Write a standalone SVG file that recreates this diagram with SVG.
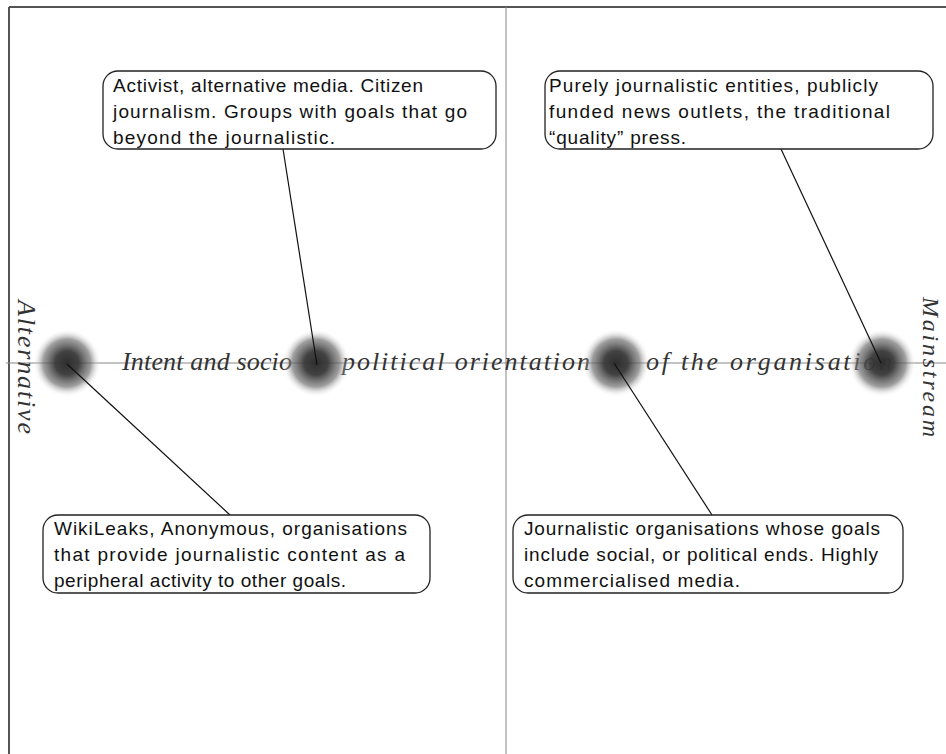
<svg xmlns="http://www.w3.org/2000/svg" width="946" height="754" viewBox="0 0 946 754">
<defs>
<radialGradient id="blob" cx="0.5" cy="0.5" r="0.5">
<stop offset="0" stop-color="#2e2e2e" stop-opacity="1"/>
<stop offset="0.35" stop-color="#383838" stop-opacity="0.95"/>
<stop offset="0.7" stop-color="#6a6a6a" stop-opacity="0.65"/>
<stop offset="1" stop-color="#ffffff" stop-opacity="0"/>
</radialGradient>
<style>
.frame{stroke:#555;stroke-width:2;fill:none}
.axis{stroke:#888;stroke-width:1;fill:none}
.box{fill:#fff;stroke:#222;stroke-width:1.3}
.bt{font-family:"Liberation Sans",Arial,sans-serif;font-size:19px;fill:#111}
.ax{font-family:"Liberation Serif","Times New Roman",serif;font-style:italic;font-size:26px;fill:#333}
.conn{stroke:#111;stroke-width:1.2;fill:none}
</style>
</defs>
<rect width="946" height="754" fill="#fff"/>
<g id="frame">
<line class="frame" x1="9" y1="7" x2="946" y2="7"/>
<line class="frame" x1="9" y1="7" x2="9" y2="754"/>
<line class="axis" x1="506" y1="7" x2="506" y2="754"/>
<line class="axis" x1="6" y1="363" x2="946" y2="363"/>
</g>
<g id="axis-labels">
<text class="ax" x="122" y="370" textLength="170" lengthAdjust="spacing">Intent and socio</text>
<text class="ax" x="342" y="370" textLength="248" lengthAdjust="spacing">political orientation</text>
<text class="ax" x="646" y="370" textLength="246" lengthAdjust="spacing">of the organisation</text>
<text class="ax" transform="translate(18,300) rotate(90)" textLength="134" lengthAdjust="spacing">Alternative</text>
<text class="ax" transform="translate(923,297) rotate(90)" textLength="140" lengthAdjust="spacing" style="font-size:24px">Mainstream</text>
</g>
<g id="blobs">
<circle id="blob-alternative" cx="67" cy="363" r="34" fill="url(#blob)"/>
<circle id="blob-activist" cx="316" cy="363" r="34" fill="url(#blob)"/>
<circle id="blob-commercial" cx="616" cy="363" r="34" fill="url(#blob)"/>
<circle id="blob-mainstream" cx="882" cy="363" r="34" fill="url(#blob)"/>
</g>
<g id="connectors">
<line class="conn" x1="283" y1="149" x2="317" y2="365"/>
<line class="conn" x1="781" y1="149" x2="881" y2="363"/>
<line class="conn" x1="67" y1="364" x2="230" y2="515"/>
<line class="conn" x1="614" y1="363" x2="712" y2="515"/>
</g>
<g id="box-activist">
<rect class="box" x="103" y="71" width="393" height="78" rx="15" ry="15"/>
<text class="bt" x="113" y="92" textLength="310" lengthAdjust="spacing">Activist, alternative media. Citizen</text>
<text class="bt" x="113" y="118" textLength="354" lengthAdjust="spacing">journalism. Groups with goals that go</text>
<text class="bt" x="113" y="144" textLength="222" lengthAdjust="spacing">beyond the journalistic.</text>
</g>
<g id="box-mainstream">
<rect class="box" x="545" y="71" width="388" height="78" rx="15" ry="15"/>
<text class="bt" x="549" y="92" textLength="329" lengthAdjust="spacing">Purely journalistic entities, publicly</text>
<text class="bt" x="549" y="118" textLength="341" lengthAdjust="spacing">funded news outlets, the traditional</text>
<text class="bt" x="549" y="144" textLength="137" lengthAdjust="spacing">“quality” press.</text>
</g>
<g id="box-alternative">
<rect class="box" x="43" y="515" width="387" height="78" rx="15" ry="15"/>
<text class="bt" x="54" y="535" textLength="353" lengthAdjust="spacing">WikiLeaks, Anonymous, organisations</text>
<text class="bt" x="54" y="561" textLength="351" lengthAdjust="spacing">that provide journalistic content as a</text>
<text class="bt" x="54" y="587" textLength="292" lengthAdjust="spacing">peripheral activity to other goals.</text>
</g>
<g id="box-commercial">
<rect class="box" x="513" y="515" width="390" height="78" rx="15" ry="15"/>
<text class="bt" x="524" y="535" textLength="356" lengthAdjust="spacing">Journalistic organisations whose goals</text>
<text class="bt" x="524" y="561" textLength="354" lengthAdjust="spacing">include social, or political ends. Highly</text>
<text class="bt" x="524" y="587" textLength="216" lengthAdjust="spacing">commercialised media.</text>
</g>
</svg>
